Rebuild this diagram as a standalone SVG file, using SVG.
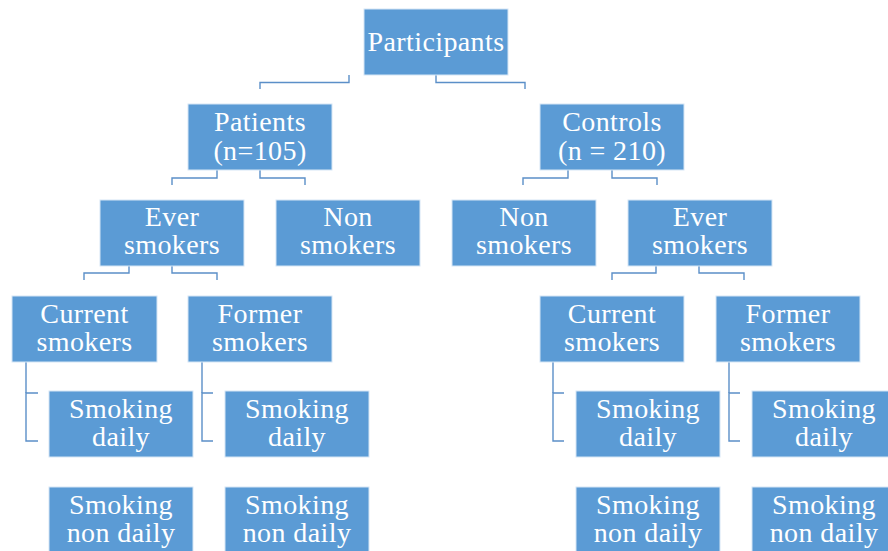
<svg xmlns="http://www.w3.org/2000/svg" width="888" height="551" viewBox="0 0 888 551">
<style>
.box{fill:#5B9BD5;stroke:#D6E6F5;stroke-width:1}
.t{font-family:"Liberation Serif","Times New Roman",serif;font-size:28px;letter-spacing:0.4px;fill:#FFFFFF;text-anchor:middle}
.c{fill:none;stroke:#5B8FC8;stroke-width:1.4}
</style>
<rect width="888" height="551" fill="#FFFFFF"/>
<g id="connectors">
<path class="c" d="M349,75 V82.5 H260 V89"/>
<path class="c" d="M436,75 V82.5 H525 V89"/>
<path class="c" d="M217,170 V178 H172 V185"/>
<path class="c" d="M260,170 V178 H305 V185"/>
<path class="c" d="M568,170 V178 H523 V185"/>
<path class="c" d="M612,170 V178 H657 V185"/>
<path class="c" d="M129,266 V273 H84 V280"/>
<path class="c" d="M172,266 V273 H217 V280"/>
<path class="c" d="M656,266 V273 H612 V280"/>
<path class="c" d="M699,266 V273 H744 V280"/>
<path class="c" d="M38,393 H26 V441 H38"/>
<path class="c" d="M26,362 V393"/>
<path class="c" d="M213,393 H202 V441 H213"/>
<path class="c" d="M202,362 V393"/>
<path class="c" d="M564,393 H553 V441 H564"/>
<path class="c" d="M553,362 V393"/>
<path class="c" d="M740,393 H729 V441 H740"/>
<path class="c" d="M729,362 V393"/>
</g>
<g id="participants"><rect class="box" x="364" y="9" width="144" height="66"/><text class="t" x="436" y="51">Participants</text></g>
<g id="patients"><rect class="box" x="188" y="104" width="144" height="66"/><text class="t" x="260" y="131">Patients</text><text class="t" x="260" y="160">(n=105)</text></g>
<g id="controls"><rect class="box" x="540" y="104" width="144" height="66"/><text class="t" x="612" y="131">Controls</text><text class="t" x="612" y="160">(n = 210)</text></g>
<g id="p-ever"><rect class="box" x="100" y="200" width="144" height="66"/><text class="t" x="172" y="226">Ever</text><text class="t" x="172" y="254">smokers</text></g>
<g id="p-non"><rect class="box" x="276" y="200" width="144" height="66"/><text class="t" x="348" y="226">Non</text><text class="t" x="348" y="254">smokers</text></g>
<g id="c-non"><rect class="box" x="452" y="200" width="144" height="66"/><text class="t" x="524" y="226">Non</text><text class="t" x="524" y="254">smokers</text></g>
<g id="c-ever"><rect class="box" x="628" y="200" width="144" height="66"/><text class="t" x="700" y="226">Ever</text><text class="t" x="700" y="254">smokers</text></g>
<g id="p-current"><rect class="box" x="12" y="296" width="145" height="66"/><text class="t" x="84.5" y="323">Current</text><text class="t" x="84.5" y="351">smokers</text></g>
<g id="p-former"><rect class="box" x="188" y="296" width="144" height="66"/><text class="t" x="260" y="323">Former</text><text class="t" x="260" y="351">smokers</text></g>
<g id="c-current"><rect class="box" x="540" y="296" width="144" height="66"/><text class="t" x="612" y="323">Current</text><text class="t" x="612" y="351">smokers</text></g>
<g id="c-former"><rect class="box" x="716" y="296" width="144" height="66"/><text class="t" x="788" y="323">Former</text><text class="t" x="788" y="351">smokers</text></g>
<g id="p-cur-daily"><rect class="box" x="49" y="391" width="144" height="66"/><text class="t" x="121" y="418">Smoking</text><text class="t" x="121" y="446">daily</text></g>
<g id="p-cur-nondaily"><rect class="box" x="49" y="487" width="144" height="66"/><text class="t" x="121" y="514">Smoking</text><text class="t" x="121" y="542">non daily</text></g>
<g id="p-for-daily"><rect class="box" x="225" y="391" width="144" height="66"/><text class="t" x="297" y="418">Smoking</text><text class="t" x="297" y="446">daily</text></g>
<g id="p-for-nondaily"><rect class="box" x="225" y="487" width="144" height="66"/><text class="t" x="297" y="514">Smoking</text><text class="t" x="297" y="542">non daily</text></g>
<g id="c-cur-daily"><rect class="box" x="576" y="391" width="144" height="66"/><text class="t" x="648" y="418">Smoking</text><text class="t" x="648" y="446">daily</text></g>
<g id="c-cur-nondaily"><rect class="box" x="576" y="487" width="144" height="66"/><text class="t" x="648" y="514">Smoking</text><text class="t" x="648" y="542">non daily</text></g>
<g id="c-for-daily"><rect class="box" x="752" y="391" width="144" height="66"/><text class="t" x="824" y="418">Smoking</text><text class="t" x="824" y="446">daily</text></g>
<g id="c-for-nondaily"><rect class="box" x="752" y="487" width="144" height="66"/><text class="t" x="824" y="514">Smoking</text><text class="t" x="824" y="542">non daily</text></g>
</svg>
